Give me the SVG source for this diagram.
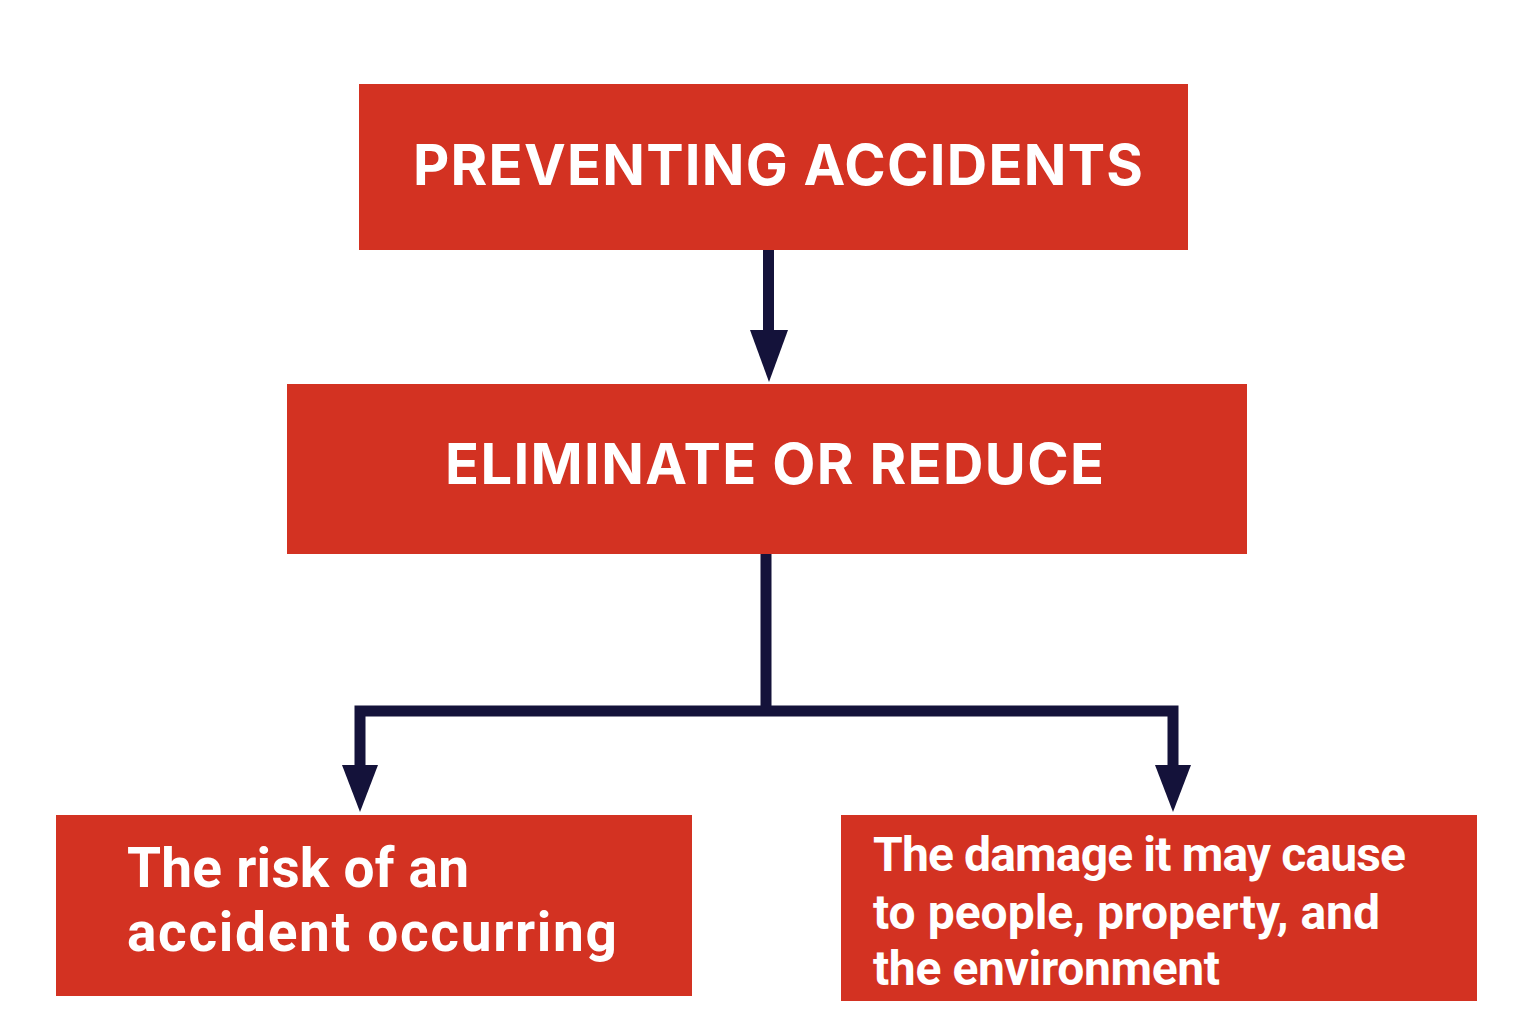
<svg xmlns="http://www.w3.org/2000/svg" width="1536" height="1024" viewBox="0 0 1536 1024">
<defs>
<style>
.box{fill:#D33222}
.t{fill:#fff;font-family:Inter,"Open Sans","Liberation Sans",sans-serif;font-weight:700}
.r{font-family:Roboto,"Liberation Sans",sans-serif}
.h{font-size:56px}
.b1{font-size:55px}
.b2{font-size:48px}
.ln{fill:none;stroke:#14123A;stroke-width:11}
.ah{fill:#14123A}
</style>
</defs>
<rect width="1536" height="1024" fill="#fff"/>
<g id="connectors">
<line class="ln" x1="768.5" y1="250" x2="768.5" y2="334"/>
<polygon class="ah" points="750,330 788,330 769,382"/>
<polyline class="ln" points="766,554 766,711"/>
<polyline class="ln" points="360,769 360,711 1173,711 1173,769"/>
<polygon class="ah" points="342,765 378,765 360,812"/>
<polygon class="ah" points="1155,765 1191,765 1173,812"/>
</g>
<g id="node-preventing">
<rect class="box" x="359" y="84" width="829" height="166"/>
<text class="t h" x="413" y="185" textLength="730" lengthAdjust="spacing">PREVENTING ACCIDENTS</text>
</g>
<g id="node-eliminate">
<rect class="box" x="287" y="384" width="960" height="170"/>
<text class="t h" x="445" y="484" textLength="659" lengthAdjust="spacing">ELIMINATE OR REDUCE</text>
</g>
<g id="node-risk">
<rect class="box" x="56" y="815" width="636" height="181"/>
<text class="t r b1" x="127" y="887" textLength="342" lengthAdjust="spacing">The risk of an</text>
<text class="t r b1" x="127" y="951" textLength="490" lengthAdjust="spacing">accident occurring</text>
</g>
<g id="node-damage">
<rect class="box" x="841" y="815" width="636" height="186"/>
<text class="t r b2" x="873" y="871" textLength="533" lengthAdjust="spacing">The damage it may cause</text>
<text class="t r b2" x="873" y="929" textLength="507" lengthAdjust="spacing">to people, property, and</text>
<text class="t r b2" x="873" y="985" textLength="347" lengthAdjust="spacing">the environment</text>
</g>
</svg>
